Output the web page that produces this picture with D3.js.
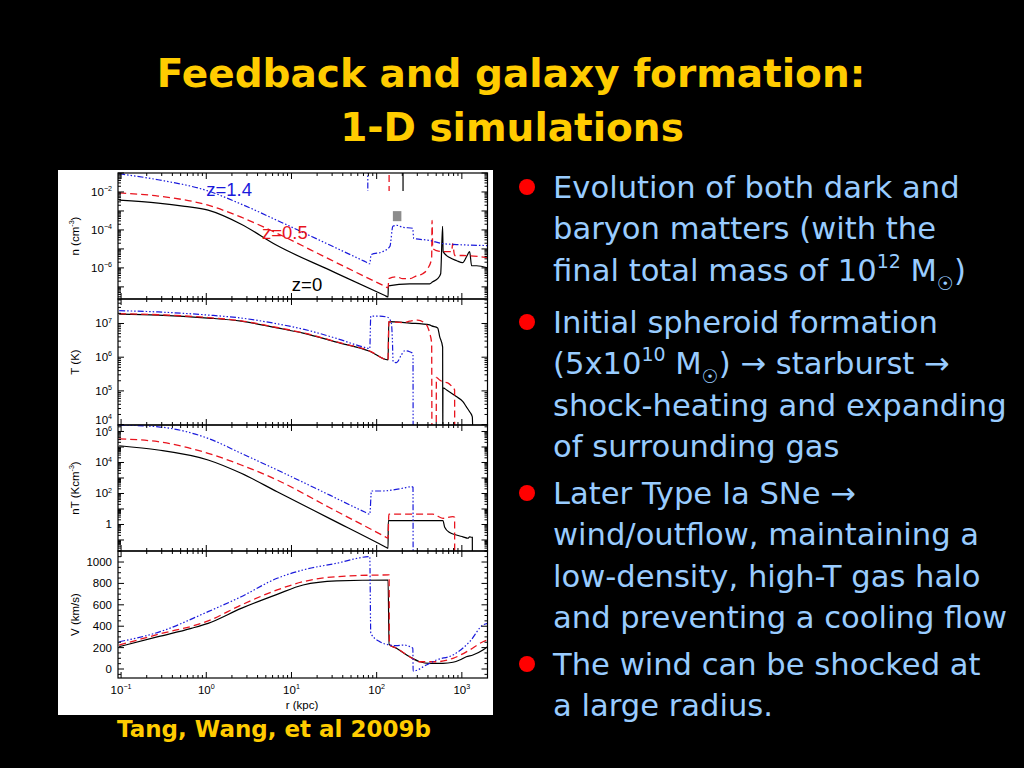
<!DOCTYPE html>
<html>
<head>
<meta charset="utf-8">
<script src="https://cdn.jsdelivr.net/npm/d3@7"></script>
<style>
  body { margin: 0; background: #000; }
  svg { display: block; }
</style>
</head>
<body>
<svg id="slide" width="1024" height="768"></svg>
<script>
// profiles as [r (kpc), value]; z=0 black, z=0.5 red, z=1.4 blue
const nZ0 = [[0.095,3.7e-3],[0.272,2.6e-3],[0.56,1.74e-3],[1.05,1.1e-3],[2.57,2.0e-4],[6.79,1.5e-5],[28.2,7.6e-7],[125,3.5e-8],[136,2.95e-8],[137,1.12e-7],[244,1.45e-7],[419,1.45e-7],[455,1.86e-7],[520,2.7e-7],[564,4.9e-7],[594,1.55e-4],[603,7.2e-6],[719,3.5e-6],[869,2.4e-6],[1021,1.9e-6],[1138,4.0e-6],[1234,7.2e-6],[1302,1.3e-6],[1490,1.3e-6],[2000,1.0e-6]];
const nZ05 = [[0.095,8.9e-3],[0.272,6.1e-3],[1.05,2.0e-3],[2.57,4.7e-4],[6.79,6.6e-5],[28.2,2.8e-6],[125,1.07e-7],[136,8.9e-8],[139,2.7e-7],[172,3.4e-7],[202,2.7e-7],[244,2.7e-7],[295,3.9e-7],[347,4.9e-7],[397,9.1e-7],[442,3.1e-6],[447,3.2e-4],[455,1.05e-5],[506,8.1e-6],[595,7.2e-6],[759,7.2e-6],[780,1.9e-5],[822,4.5e-6],[1021,4.5e-6],[2000,3.5e-6]];
const nZ14 = [[0.095,0.091],[0.272,0.044],[1.05,0.0113],[2.57,2.3e-3],[6.79,3.2e-4],[28.2,1.6e-5],[72.5,2.2e-6],[83,1.66e-6],[86,5.0e-6],[118,7.2e-6],[143,1.35e-5],[155,1.55e-4],[172,1.75e-4],[202,1.38e-4],[265,1.23e-4],[272,3.6e-5],[419,2.8e-5],[595,1.9e-5],[869,1.7e-5],[2000,1.5e-5]];
// density spikes that leave the top of the n panel
const nTopZ0 = [[204,0.3],[204,0.0113]];
const nTopZ05 = [[140,0.3],[140,0.0113]];
const nTopZ14 = [[78.7,0.3],[78.7,0.0113]];
const grayBox = [[155,9.8e-4],[195,2.9e-4]];

const tZ0 = [[0.095,1.9e7],[0.272,1.78e7],[1.05,1.45e7],[2.57,1.17e7],[6.79,7.4e6],[13.7,5.2e6],[33.8,2.8e6],[83,1.5e6],[136,8.3e5],[139,1.13e7],[244,1.03e7],[419,9.1e6],[442,8.5e6],[520,7.4e6],[549,4.1e6],[595,2.0e6],[597,3e3],[600,1.23e5],[663,1.07e5],[861,6.8e4],[1029,4.8e4],[1127,3.4e4],[1234,2.4e4],[1327,1.7e4],[1349,3e3]];
const tZ05 = [[0.095,1.95e7],[0.272,1.82e7],[1.05,1.5e7],[2.57,1.2e7],[6.79,7.6e6],[13.7,5.3e6],[33.8,2.85e6],[83,1.52e6],[136,8.4e5],[139,1.13e7],[204,1.07e7],[244,1.17e7],[303,1.26e7],[366,1.02e7],[397,7.9e6],[419,5.2e6],[442,2.6e6],[446,3e3],[500,3e3],[502,2.5e5],[549,2.1e5],[600,1.86e5],[682,1.74e5],[753,1.41e5],[822,1.07e5],[824,3e3]];
const tZ14 = [[0.095,2.4e7],[0.272,2.2e7],[1.05,1.78e7],[2.57,1.45e7],[6.79,9.8e6],[13.7,6.8e6],[33.8,3.6e6],[70,2.0e6],[83,1.8e6],[85.3,1.66e7],[109,1.66e7],[136,1.51e7],[149,1.0e7],[153,3.2e6],[156,7.4e5],[171,6.9e5],[195,1.17e6],[213,1.55e6],[244,1.45e6],[263,1.32e6],[267,1.17e6],[268,3e3]];

const ntZ0 = [[0.095,1.2e5],[0.272,6.4e4],[1.05,1.45e4],[2.57,2.0e3],[6.79,130],[28.2,2.4],[125,0.037],[136,0.029],[137,1.78],[600,1.78],[629,0.66],[719,0.30],[861,0.21],[1029,0.16],[1178,0.13],[1234,0.16],[1292,0.15],[1327,0.15],[1330,1e-3]];
const ntZ05 = [[0.095,3.3e5],[0.272,2.2e5],[1.05,3.9e4],[2.57,6.9e3],[6.79,740],[28.2,12],[125,0.166],[136,0.13],[139,4.6],[455,4.6],[600,2.5],[786,3.2],[822,2.9],[824,1e-3]];
const ntZ14 = [[0.095,2.6e6],[0.272,2.0e6],[1.05,3.6e5],[2.57,3.9e4],[6.79,3.3e3],[28.2,78],[72.5,6.4],[83,4.6],[86.9,145],[118,145],[155,170],[204,220],[256,275],[267,250],[268,1e-3]];

const vZ0 = [[0.095,209],[0.272,302],[0.667,380],[1.05,427],[2.57,567],[6.79,698],[13.7,785],[33.8,823],[136,832],[140,231],[171,194],[244,115],[320,68],[419,53],[600,53],[786,63],[942,84],[1127,115],[1349,131],[1767,178],[2000,209]];
const vZ05 = [[0.095,224],[0.272,324],[1.05,449],[2.57,598],[6.79,739],[13.7,816],[33.8,863],[140,879],[141,225],[171,194],[244,115],[320,68],[502,68],[786,100],[1234,178],[1767,255],[2000,271]];
const vZ14 = [[0.095,255],[0.272,343],[1.05,536],[2.57,676],[6.79,848],[13.7,926],[33.8,988],[83,1050],[85.3,334],[109,255],[143,224],[171,218],[204,224],[266,194],[268,-19],[383,37],[502,84],[786,131],[1234,255],[1767,411],[2000,427]];

const xLabelExps = [-1, 0, 1, 2, 3];
const nLabelExps = [-2, -4, -6];
const tLabelExps = [7, 6, 5, 4];
const ntLabelExps = [6, 4, 2, 0];
const vLabels = [0, 200, 400, 600, 800, 1000];

const zLabels = [
  { text: "z=1.4", r: 1.0, n: 6.1e-3, color: "#1a1adb" },
  { text: "z=0.5", r: 4.5, n: 3.5e-5, color: "#e8141e" },
  { text: "z=0", r: 10.1, n: 6.2e-8, color: "#000" }
];

const bullets = [
  [[["Evolution of both dark and"]], [["baryon matters (with the"]],
   [["final total mass of 10"], ["12", "sup"], [" M"], ["\u2609", "sub"], [")"]]],
  [[["Initial spheroid formation"]],
   [["(5x10"], ["10", "sup"], [" M"], ["\u2609", "sub"], [") \u2192 starburst \u2192"]],
   [["shock-heating and expanding"]], [["of surrounding gas"]]],
  [[["Later Type Ia SNe \u2192"]], [["wind/outflow, maintaining a"]],
   [["low-density, high-T gas halo"]], [["and preventing a cooling flow"]]],
  [[["The wind can be shocked at"]], [["a large radius."]]]
];
const bulletTops = [198, 333, 504, 675];

const svg = d3.select("#slide");
const slideFont = "'Comic Sans MS', 'DejaVu Sans', sans-serif";
const plotFont = "'Liberation Sans', Arial, sans-serif";

svg.append("rect").attr("width", 1024).attr("height", 768).attr("fill", "#000");

// rich text with super/subscripts using dy shifts
function rich(sel, parts, size) {
  let shift = 0;
  parts.forEach(([s, kind]) => {
    const target = kind === "sup" ? -0.42 * size : kind === "sub" ? 0.3 * size : 0;
    sel.append("tspan")
      .attr("dy", target - shift)
      .attr("font-size", kind ? size * 0.62 : size)
      .text(s);
    shift = target;
  });
}

// title
const title = svg.append("text")
  .attr("text-anchor", "middle")
  .attr("fill", "#ffcc00")
  .attr("font-family", slideFont)
  .attr("font-weight", "bold")
  .attr("font-size", 39);
title.append("tspan").attr("x", 511).attr("y", 87).text("Feedback and galaxy formation:");
title.append("tspan").attr("x", 512).attr("y", 141).text("1-D simulations");

// bullets
bullets.forEach((lines, bi) => {
  const y0 = bulletTops[bi];
  svg.append("circle").attr("cx", 527).attr("cy", y0 - 11).attr("r", 8).attr("fill", "#ff0000");
  lines.forEach((parts, li) => {
    const t = svg.append("text")
      .attr("x", 553)
      .attr("y", y0 + li * 41.3)
      .attr("fill", "#99ccff")
      .attr("font-family", slideFont);
    rich(t, parts, 30.6);
  });
});

// caption
svg.append("text")
  .attr("x", 117).attr("y", 737)
  .attr("fill", "#ffcc00")
  .attr("font-family", slideFont)
  .attr("font-weight", "bold")
  .attr("font-size", 23)
  .text("Tang, Wang, et al 2009b");

// figure
svg.append("rect").attr("x", 58).attr("y", 170).attr("width", 435).attr("height", 545).attr("fill", "#fff");

const x = d3.scaleLog().domain([0.092, 2000]).range([118, 487.5]);
const [xl, xr] = x.range();

const styles = [
  { color: "#000", dash: null, width: 1.2 },
  { color: "#e8141e", dash: "7,4", width: 1.3 },
  { color: "#1a1adb", dash: "6,2,1.5,2,1.5,2,1.5,2", width: 1.2 }
];

const panels = [
  { top: 173, bottom: 299, y: d3.scaleLog().domain([2.3e-8, 0.1]), series: [nZ0, nZ05, nZ14],
    extra: [nTopZ0, nTopZ05, nTopZ14], labels: nLabelExps, title: [["n (cm"], ["-3", "sup"], [")"]] },
  { top: 299, bottom: 425, y: d3.scaleLog().domain([9730, 5.33e7]), series: [tZ0, tZ05, tZ14],
    labels: tLabelExps, title: [["T (K)"]] },
  { top: 425, bottom: 551, y: d3.scaleLog().domain([0.0195, 2.62e6]), series: [ntZ0, ntZ05, ntZ14],
    labels: ntLabelExps, title: [["nT (Kcm"], ["-3", "sup"], [")"]] },
  { top: 551, bottom: 678, y: d3.scaleLinear().domain([-84, 1103]), series: [vZ0, vZ05, vZ14],
    labels: vLabels, linear: true, title: [["V (km/s)"]] }
];

const isDecade = v => Math.abs(Math.log10(v) - Math.round(Math.log10(v))) < 1e-9;
const defs = svg.append("defs");

panels.forEach((p, i) => {
  p.y.range([p.bottom, p.top]);
  defs.append("clipPath").attr("id", "clip" + i)
    .append("rect").attr("x", xl).attr("y", p.top).attr("width", xr - xl).attr("height", p.bottom - p.top);

  const g = svg.append("g");
  const lines = g.append("g").attr("clip-path", "url(#clip" + i + ")");

  const line = d3.line().x(d => x(d[0])).y(d => p.y(d[1])).curve(d3.curveMonotoneX);
  const straight = d3.line().x(d => x(d[0])).y(d => p.y(d[1]));

  if (i === 0) {
    lines.append("rect")
      .attr("x", x(grayBox[0][0])).attr("y", p.y(grayBox[0][1]))
      .attr("width", x(grayBox[1][0]) - x(grayBox[0][0]))
      .attr("height", p.y(grayBox[1][1]) - p.y(grayBox[0][1]))
      .attr("fill", "#8c8c8c");
  }

  p.series.forEach((s, k) => {
    const st = styles[k];
    lines.append("path").attr("d", line(s))
      .attr("fill", "none").attr("stroke", st.color).attr("stroke-width", st.width)
      .attr("stroke-dasharray", st.dash);
    if (p.extra) {
      lines.append("path").attr("d", straight(p.extra[k]))
        .attr("fill", "none").attr("stroke", st.color).attr("stroke-width", st.width)
        .attr("stroke-dasharray", st.dash);
    }
  });

  // frame
  g.append("rect").attr("x", xl).attr("y", p.top).attr("width", xr - xl).attr("height", p.bottom - p.top)
    .attr("fill", "none").attr("stroke", "#000").attr("stroke-width", 1.2);

  // x ticks, top and bottom, inward
  x.ticks().forEach(t => {
    const len = isDecade(t) ? 6 : 3;
    g.append("line").attr("x1", x(t)).attr("x2", x(t)).attr("y1", p.bottom).attr("y2", p.bottom - len)
      .attr("stroke", "#000");
    g.append("line").attr("x1", x(t)).attr("x2", x(t)).attr("y1", p.top).attr("y2", p.top + len)
      .attr("stroke", "#000");
  });

  // y ticks, left and right
  const yt = p.linear ? d3.range(-50, 1101, 50) : p.y.ticks();
  yt.forEach(t => {
    const major = p.linear ? t % 200 === 0 : isDecade(t);
    const len = major ? 6 : 3;
    g.append("line").attr("x1", xl).attr("x2", xl + len).attr("y1", p.y(t)).attr("y2", p.y(t)).attr("stroke", "#000");
    g.append("line").attr("x1", xr).attr("x2", xr - len).attr("y1", p.y(t)).attr("y2", p.y(t)).attr("stroke", "#000");
  });

  // y tick labels; the ones at a panel edge are nudged inside so neighbours do not collide
  p.labels.forEach(v => {
    const val = p.linear ? v : Math.pow(10, v);
    let yy = p.y(val) + 4;
    yy = Math.min(yy, p.bottom - 1);
    yy = Math.max(yy, p.top + 11);
    const t = g.append("text")
      .attr("x", 112).attr("y", yy)
      .attr("text-anchor", "end")
      .attr("font-family", plotFont)
      .attr("fill", "#000");
    if (p.linear) rich(t, [[String(v)]], 11.5);
    else if (v === 0) rich(t, [["1"]], 11.5);
    else rich(t, [["10"], [String(v).replace("-", "\u2212"), "sup"]], 11.5);
  });

  // axis title
  const tt = g.append("text")
    .attr("transform", `translate(79,${(p.top + p.bottom) / 2}) rotate(-90)`)
    .attr("text-anchor", "middle")
    .attr("font-family", plotFont)
    .attr("fill", "#000");
  rich(tt, p.title, 11.5);
});

// x tick labels and title on the bottom panel
xLabelExps.forEach(e => {
  const t = svg.append("text")
    .attr("x", x(Math.pow(10, e))).attr("y", 694)
    .attr("text-anchor", "middle")
    .attr("font-family", plotFont)
    .attr("fill", "#000");
  rich(t, [["10"], [String(e).replace("-", "\u2212"), "sup"]], 11.5);
});
svg.append("text")
  .attr("x", 302).attr("y", 709)
  .attr("text-anchor", "middle")
  .attr("font-family", plotFont)
  .attr("font-size", 11.5)
  .text("r (kpc)");

// redshift labels in the density panel
zLabels.forEach(d => {
  svg.append("text")
    .attr("x", x(d.r)).attr("y", panels[0].y(d.n))
    .attr("font-family", plotFont)
    .attr("font-size", 18.5)
    .attr("fill", d.color)
    .text(d.text);
});
</script>
</body>
</html>
